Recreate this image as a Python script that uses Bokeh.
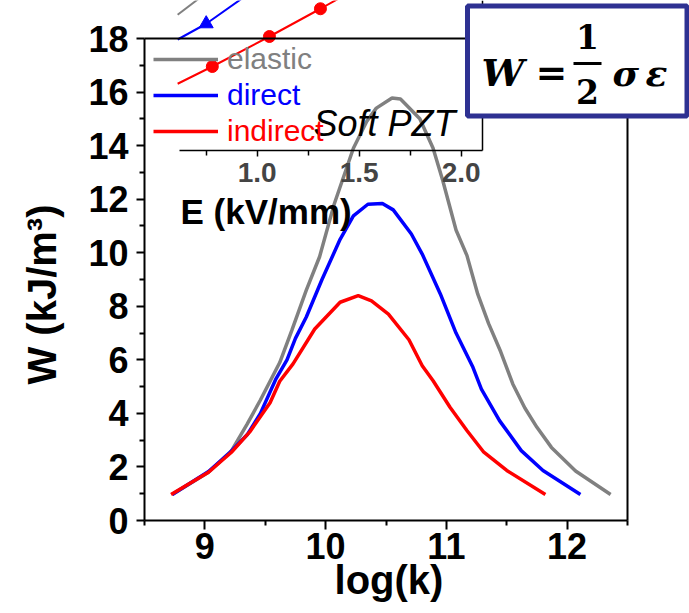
import math
from bokeh.plotting import figure
from bokeh.models import (Range1d, LinearAxis, FixedTicker, Legend, LegendItem,
                          Label, BoxAnnotation, PrintfTickFormatter)
from bokeh.embed import file_html
from bokeh.resources import INLINE

# ---------------- data ----------------
log_k_elastic = [8.73, 9.03, 9.22, 9.35, 9.46, 9.54, 9.62, 9.72, 9.84, 9.95, 10.07,
                 10.23, 10.34, 10.42, 10.55, 10.62, 10.78, 10.89, 10.97, 11.08, 11.17,
                 11.26, 11.35, 11.45, 11.55, 11.65, 11.75, 11.87, 12.07, 12.36]
W_elastic = [0.97, 1.8, 2.6, 3.6, 4.5, 5.2, 5.9, 7.1, 8.6, 9.85, 11.8,
             13.9, 14.9, 15.4, 15.78, 15.74, 15.0, 13.9, 12.7, 10.85, 9.9,
             8.45, 7.35, 6.3, 5.1, 4.2, 3.48, 2.73, 1.85, 0.97]

log_k_direct = [8.73, 9.03, 9.21, 9.35, 9.46, 9.59, 9.68, 9.75, 9.84, 9.97, 10.12,
                10.23, 10.35, 10.47, 10.56, 10.71, 10.80, 10.95, 11.08, 11.22, 11.29,
                11.44, 11.62, 11.80, 12.11]
W_direct = [0.97, 1.83, 2.55, 3.2, 4.0, 5.3, 6.0, 6.8, 7.6, 9.0, 10.5,
            11.38, 11.81, 11.84, 11.6, 10.7, 9.95, 8.46, 7.0, 5.72, 4.91,
            3.73, 2.61, 1.87, 0.97]

log_k_indirect = [8.72, 9.03, 9.22, 9.37, 9.54, 9.62, 9.73, 9.91, 10.12, 10.27,
                  10.38, 10.52, 10.69, 10.80, 10.89, 11.03, 11.17, 11.31, 11.50, 11.82]
W_indirect = [0.97, 1.8, 2.55, 3.3, 4.4, 5.2, 5.85, 7.15, 8.15, 8.4,
              8.2, 7.71, 6.75, 5.78, 5.22, 4.23, 3.36, 2.55, 1.87, 0.97]

# inset (W vs E), only its lower part is visible
inset_E_elastic = [0.61, 0.75]
inset_W_elastic = [18.1, 21.0]
inset_E_direct = [0.61, 0.75, 1.0]
inset_W_direct = [14.8, 16.9, 21.7]
inset_E_indirect = [0.61, 0.78, 1.06, 1.31, 1.56]
inset_W_indirect = [8.9, 11.2, 15.2, 18.9, 22.7]

x_ticks = [9, 10, 11, 12]
x_minor = [8.5, 9.5, 10.5, 11.5, 12.5]
y_ticks = [0, 2, 4, 6, 8, 10, 12, 14, 16, 18]
y_minor = [1, 3, 5, 7, 9, 11, 13, 15, 17]
inset_E_ticks = [1.0, 1.5, 2.0]
inset_E_minor = [0.75, 1.25, 1.75]

series_names = ["elastic", "direct", "indirect"]
series_colors = ["#808080", "#0000FF", "#FF0000"]

# ---------------- geometry ----------------
WIDTH, HEIGHT = 689, 613
FL, FR, FB = 144, 627, 520           # main plot box edges (px)
X0, X1 = 8.5, 12.5
Y_MAIN_TOP = 18.0
Y_MAIN_TOP_PX = 38
PPX = (FR - FL) / (X1 - X0)
PPY = (FB - Y_MAIN_TOP_PX) / Y_MAIN_TOP


def X(px):
    return X0 + (px - FL) / PPX


def Y(py):
    return (FB - py) / PPY


def E_of(px):
    return 1.0 + (px - 256.7) / 204.0


def Wi_of(py):
    return (150.0 - py) / 7.5


# the frame covers the whole canvas; axes are placed at fixed locations
p = figure(width=WIDTH, height=HEIGHT, output_backend="svg", toolbar_location=None,
           x_range=Range1d(X(0), X(WIDTH)), y_range=Range1d(Y(HEIGHT), Y(0)),
           x_axis_type=None, y_axis_type=None,
           min_border_left=0, min_border_right=0, min_border_top=0, min_border_bottom=0)
p.outline_line_color = None
p.background_fill_color = "white"
p.border_fill_color = "white"
p.extra_x_ranges = {"E": Range1d(E_of(0), E_of(WIDTH))}
p.extra_y_ranges = {"Wi": Range1d(Wi_of(HEIGHT), Wi_of(0))}

FONT = "Liberation Sans"

# main axes
xax = LinearAxis(ticker=FixedTicker(ticks=x_ticks, minor_ticks=x_minor),
                 fixed_location=0.0, bounds=(X0, X1))
xax.axis_line_width = 2
xax.major_tick_line_width = 2
xax.minor_tick_line_width = 2
xax.major_tick_out = 9
xax.major_tick_in = 0
xax.minor_tick_out = 5
xax.minor_tick_in = 0
xax.major_label_text_font = FONT
xax.major_label_text_font_style = "bold"
xax.major_label_text_font_size = "36px"
xax.major_label_text_color = "black"
xax.major_label_standoff = 3
p.add_layout(xax, "below")

yax = LinearAxis(ticker=FixedTicker(ticks=y_ticks, minor_ticks=y_minor),
                 fixed_location=X0, bounds=(0, Y_MAIN_TOP))
yax.axis_line_width = 2
yax.major_tick_line_width = 2
yax.minor_tick_line_width = 2
yax.major_tick_out = 8
yax.major_tick_in = 0
yax.minor_tick_out = 5
yax.minor_tick_in = 0
yax.major_label_text_font = FONT
yax.major_label_text_font_style = "bold"
yax.major_label_text_font_size = "36px"
yax.major_label_text_color = "black"
yax.major_label_standoff = 8
p.add_layout(yax, "left")

# main frame top and right borders
top_ax = LinearAxis(ticker=FixedTicker(ticks=[]), fixed_location=Y_MAIN_TOP, bounds=(X0, X1))
top_ax.axis_line_width = 2
p.add_layout(top_ax, "above")
right_ax = LinearAxis(ticker=FixedTicker(ticks=[]), fixed_location=X1, bounds=(0, Y_MAIN_TOP))
right_ax.axis_line_width = 2
p.add_layout(right_ax, "right")

# inset axes
E_left, E_right = E_of(178.5), E_of(482)
iax = LinearAxis(x_range_name="E", y_range_name="Wi", fixed_location=0.0,
                 bounds=(E_left, E_right),
                 ticker=FixedTicker(ticks=inset_E_ticks, minor_ticks=inset_E_minor),
                 formatter=PrintfTickFormatter(format="%.1f"))
iax.axis_line_width = 1.5
iax.major_tick_line_width = 1.5
iax.minor_tick_line_width = 1.5
iax.major_tick_out = 6
iax.major_tick_in = 0
iax.minor_tick_out = 5
iax.minor_tick_in = 0
iax.major_label_text_font = FONT
iax.major_label_text_font_style = "bold"
iax.major_label_text_font_size = "28px"
iax.major_label_standoff = 6
p.add_layout(iax, "below")

irax = LinearAxis(x_range_name="E", y_range_name="Wi", fixed_location=E_right,
                  bounds=(0, Wi_of(0)), ticker=FixedTicker(ticks=[]))
irax.axis_line_width = 1.5
p.add_layout(irax, "right")

# inset lines
p.line(inset_E_elastic, inset_W_elastic, x_range_name="E", y_range_name="Wi",
       line_color=series_colors[0], line_width=2)
p.line(inset_E_direct, inset_W_direct, x_range_name="E", y_range_name="Wi",
       line_color=series_colors[1], line_width=2)
p.scatter(inset_E_direct[1:], inset_W_direct[1:], x_range_name="E", y_range_name="Wi",
          marker="triangle", size=14, color=series_colors[1])
p.line(inset_E_indirect, inset_W_indirect, x_range_name="E", y_range_name="Wi",
       line_color=series_colors[2], line_width=2)
p.scatter(inset_E_indirect[1:], inset_W_indirect[1:], x_range_name="E", y_range_name="Wi",
          marker="circle", size=12, color=series_colors[2])

# main curves
r_el = p.line(log_k_elastic, W_elastic, line_color=series_colors[0], line_width=3.5)
r_di = p.line(log_k_direct, W_direct, line_color=series_colors[1], line_width=3.5)
r_in = p.line(log_k_indirect, W_indirect, line_color=series_colors[2], line_width=3.5)

# legends (one per item so each label gets its colour)
centers = [61, 97, 133]
for name, col, r, cy in zip(series_names, series_colors, [r_el, r_di, r_in], centers):
    lg = Legend(items=[LegendItem(label=name, renderers=[r])],
                location=(153, HEIGHT - (cy + 15)))
    lg.padding = 0
    lg.margin = 0
    lg.border_line_color = None
    lg.background_fill_alpha = 0
    lg.glyph_width = 65
    lg.glyph_height = 30
    lg.label_height = 30
    lg.label_standoff = 9
    lg.label_text_font = FONT
    lg.label_text_font_size = "30px"
    lg.label_text_color = col
    lg.label_text_baseline = "middle"
    p.add_layout(lg)


def text(px, py, s, size, font=FONT, style="normal", align="left", angle=0.0):
    p.add_layout(Label(x=X(px), y=Y(py), text=s, text_font=font,
                       text_font_style=style, text_font_size=f"{size}px", angle=angle,
                       text_align=align, text_baseline="alphabetic", text_color="black"))


# texts (baseline positions in px, corrected for Bokeh's text box offset)
text(313, 133 - 10, "Soft PZT", 36, style="italic")
text(180, 222 - 11, "E (kV/mm)", 35, style="bold")
text((FL + FR) / 2 + 3, 590 - 11, "log(k)", 40, style="bold", align="center")
text(41, 294, "W (kJ/m³)", 40, style="bold", align="center", angle=math.pi / 2)

# formula box
p.add_layout(BoxAnnotation(left=X(467), right=X(686.5), top=Y(5.5), bottom=Y(115.5),
                           fill_color="white", fill_alpha=1.0,
                           line_color="#2E3192", line_width=5, line_alpha=1.0))
SERIF = "DejaVu Serif"
text(481, 86 - 14, "W", 38, font=SERIF, style="bold italic")
text(551, 86 - 14, "=", 38, font=SERIF, style="bold", align="center")
text(587, 48 - 12, "1", 33, font=SERIF, style="bold", align="center")
text(587, 103 - 12, "2", 33, font=SERIF, style="bold", align="center")
p.add_layout(BoxAnnotation(left=X(573), right=X(601), top=Y(61.5), bottom=Y(64.5),
                           fill_color="black", fill_alpha=1.0, line_color=None))
text(612, 86 - 14, "σ", 36, font=SERIF, style="bold italic")
text(645, 86 - 14, "ε", 36, font=SERIF, style="bold italic")

open("out.html", "w").write(file_html(p, INLINE))
